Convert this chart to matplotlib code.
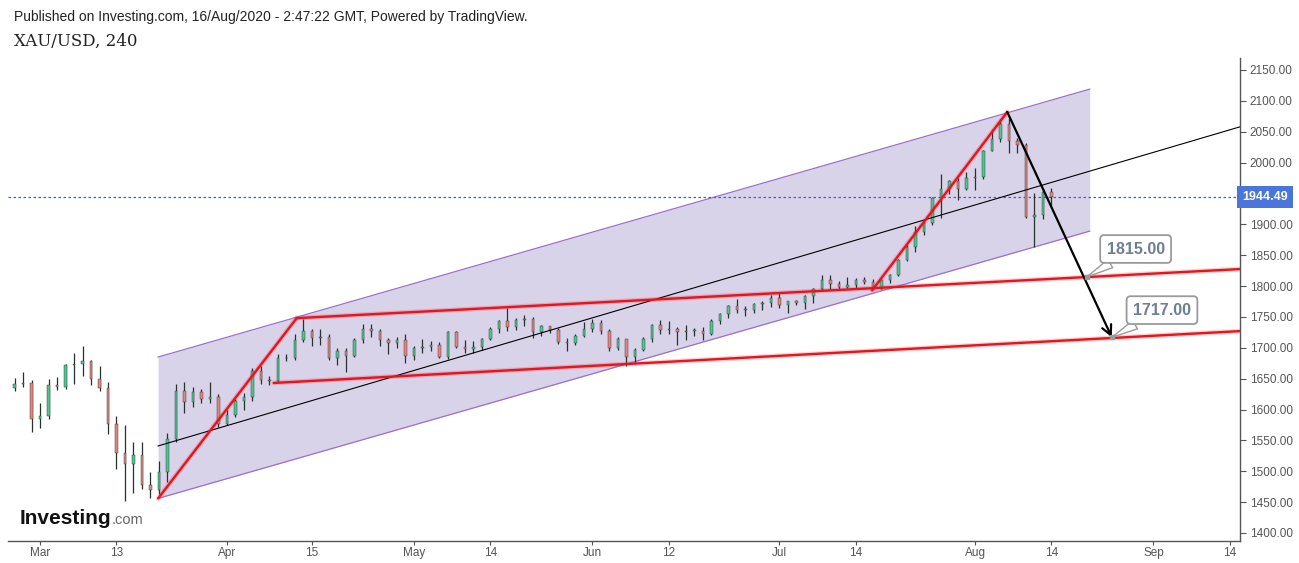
import numpy as np
import pandas as pd
import matplotlib
matplotlib.use('Agg')
import matplotlib.pyplot as plt

plt.rcParams['font.family'] = ['Liberation Sans', 'DejaVu Sans']

# XAU/USD daily candles (weekdays, 25 Feb - 14 Aug 2020)
dates = pd.bdate_range('2020-02-25', '2020-08-14')
opens = [1658, 1635, 1641, 1643,
         1585, 1590, 1640, 1637, 1672, 1674, 1679, 1649, 1635, 1577, 1529, 1511, 1526, 1478, 1470, 1498, 1553, 1630, 1612, 1629, 1617, 1621,
         1577, 1591, 1613, 1620, 1663, 1647, 1646, 1683, 1683, 1713, 1727, 1716, 1717, 1683, 1694, 1686, 1713, 1730, 1727, 1713, 1707, 1713,
         1687, 1700, 1702, 1705, 1685, 1725, 1702, 1698, 1702, 1715, 1731, 1743, 1733, 1745, 1747, 1725, 1735, 1729, 1710, 1708, 1719,
         1730, 1740, 1727, 1700, 1714, 1685, 1697, 1714, 1737, 1728, 1730, 1726, 1727, 1727, 1723, 1744, 1754, 1768, 1761, 1762, 1771, 1772,
         1781, 1770, 1775, 1772, 1784, 1795, 1810, 1803, 1799, 1802, 1810, 1807, 1796, 1810, 1818, 1842, 1863, 1888, 1902, 1942, 1958, 1970, 1958,
         1975, 1976, 2019, 2039, 2063, 2035, 2028, 1912, 1915, 1953]
highs = [1661, 1651, 1660, 1648,
         1610, 1649, 1652, 1674, 1692, 1703, 1681, 1670, 1645, 1590, 1575, 1548, 1548, 1498, 1517, 1562, 1641, 1645, 1637, 1633, 1644, 1625,
         1600, 1617, 1627, 1667, 1671, 1654, 1690, 1690, 1722, 1747, 1730, 1731, 1722, 1700, 1699, 1716, 1739, 1738, 1730, 1716, 1718, 1722,
         1703, 1715, 1711, 1710, 1727, 1727, 1712, 1711, 1716, 1734, 1745, 1765, 1748, 1753, 1750, 1737, 1736, 1732, 1716, 1723, 1741,
         1746, 1745, 1731, 1717, 1715, 1700, 1718, 1739, 1745, 1744, 1734, 1737, 1732, 1733, 1746, 1756, 1769, 1779, 1768, 1772, 1775, 1785,
         1789, 1776, 1777, 1786, 1797, 1818, 1818, 1808, 1815, 1813, 1815, 1811, 1811, 1820, 1843, 1866, 1898, 1905, 1945, 1981, 1971, 1975, 1984,
         1992, 2020, 2055, 2070, 2075, 2040, 2032, 1950, 1958, 1959]
lows = [1627, 1630, 1637, 1563,
        1570, 1585, 1632, 1634, 1642, 1655, 1640, 1630, 1560, 1504, 1451, 1465, 1472, 1456, 1463, 1482, 1547, 1595, 1604, 1610, 1610, 1572,
        1575, 1588, 1600, 1614, 1641, 1640, 1644, 1678, 1680, 1709, 1703, 1704, 1680, 1672, 1660, 1685, 1707, 1718, 1703, 1690, 1700, 1675,
        1680, 1692, 1695, 1683, 1682, 1700, 1692, 1692, 1696, 1712, 1724, 1727, 1728, 1735, 1716, 1719, 1724, 1706, 1694, 1704, 1718,
        1726, 1722, 1694, 1697, 1670, 1674, 1695, 1710, 1722, 1722, 1704, 1712, 1719, 1712, 1721, 1739, 1749, 1757, 1752, 1757, 1762, 1766,
        1765, 1757, 1770, 1763, 1773, 1793, 1796, 1795, 1797, 1797, 1804, 1795, 1795, 1805, 1816, 1840, 1855, 1883, 1899, 1910, 1949, 1940, 1955,
        1956, 1973, 2018, 2034, 2015, 2015, 1911, 1863, 1908, 1930]
closes = [1635, 1641, 1643, 1585,
          1590, 1640, 1637, 1672, 1674, 1679, 1649, 1635, 1577, 1529, 1511, 1526, 1478, 1470, 1498, 1553, 1630, 1612, 1629, 1617, 1621, 1577,
          1591, 1613, 1620, 1663, 1647, 1646, 1683, 1683, 1713, 1727, 1716, 1717, 1683, 1694, 1686, 1713, 1730, 1727, 1713, 1707, 1713, 1687,
          1700, 1702, 1705, 1685, 1725, 1702, 1698, 1702, 1715, 1731, 1743, 1733, 1745, 1747, 1725, 1735, 1729, 1710, 1708, 1719, 1730,
          1740, 1727, 1700, 1714, 1685, 1697, 1714, 1737, 1728, 1730, 1726, 1727, 1727, 1723, 1744, 1754, 1768, 1761, 1762, 1771, 1772, 1781,
          1770, 1775, 1772, 1784, 1795, 1810, 1803, 1799, 1802, 1810, 1807, 1796, 1810, 1818, 1842, 1863, 1888, 1902, 1942, 1958, 1970, 1958, 1975,
          1976, 2019, 2039, 2063, 2035, 2028, 1912, 1915, 1953, 1944.49]
last_price = 1944.49

tick_dates = ['2020-03-02', '2020-03-13', '2020-04-01', '2020-04-15', '2020-05-01', '2020-05-14', '2020-06-01',
              '2020-06-12', '2020-07-01', '2020-07-14', '2020-08-03', '2020-08-14', '2020-09-01', '2020-09-14']
tick_labels = ['Mar', '13', 'Apr', '15', 'May', '14', 'Jun', '12', 'Jul', '14', 'Aug', '14', 'Sep', '14']
price_ticks = np.arange(1400, 2151, 50)

# drawings: x = trading days since 2 Mar 2020, y = price
channel_x = [13.9, 123.5]
channel_top = [1685, 2119]
channel_bottom = [1456, 1889]
trend_x = [13.9, 141.2]
trend_y = [1541, 2058]
leg1_x, leg1_y = [13.9, 30.2], [1456, 1748]
upper_red_x, upper_red_y = [30.2, 141.2], [1748, 1827.5]
lower_red_x, lower_red_y = [27.5, 141.2], [1643, 1727]
leg2_x, leg2_y = [97.9, 113.8], [1793, 2082]
arrow_start = (113.8, 2082)
target_points = [(123.2, 1815), (126.1, 1717)]
target_labels = ['1815.00', '1717.00']
target_label_pos = [(128.9, 1860), (132.0, 1761)]

fig = plt.figure(figsize=(12.99, 5.63), dpi=100)
ax = fig.add_axes([8 / 1299, 22 / 563, 1232 / 1299, 483 / 563])

# channel
ax.fill_between(channel_x, channel_bottom, channel_top, color='#d9d3ea', lw=0, zorder=1)
ax.plot(channel_x, channel_top, color='#9a70cc', lw=0.9, zorder=2)
ax.plot(channel_x, channel_bottom, color='#9a70cc', lw=0.9, zorder=2)

# candles
x = np.busday_count('2020-03-02', dates.values.astype('datetime64[D]'))
o = np.array(opens, float)
c = np.array(closes, float)
up = c >= o
ax.vlines(x, lows, highs, color='#26332c', lw=0.9, zorder=3)
body = np.maximum(np.abs(c - o), 1.2)
ax.bar(x, body, bottom=np.minimum(o, c), width=0.3,
       color=np.where(up, '#4fc590', '#e48480'), edgecolor='#26332c', linewidth=0.3, zorder=4)

# trend lines
ax.plot(trend_x, trend_y, color='black', lw=0.8, zorder=5)
for xs, ys in [(leg1_x, leg1_y), (upper_red_x, upper_red_y), (lower_red_x, lower_red_y), (leg2_x, leg2_y)]:
    ax.plot(xs, ys, color='#e8141b', lw=3.5, alpha=0.2, zorder=5, solid_capstyle='round')
    ax.plot(xs, ys, color='#e8141b', lw=1.7, zorder=6, solid_capstyle='round')

ax.annotate('', xy=target_points[1], xytext=arrow_start,
            arrowprops=dict(arrowstyle='->,head_length=0.7,head_width=0.35', color='black', lw=1.6,
                            shrinkA=0, shrinkB=0), zorder=7)

# last price
ax.axhline(last_price, color='#3a62c8', lw=0.9, ls=(0, (2, 2)), zorder=2)
ax.text(1.002, last_price, f'{last_price:.2f}', transform=ax.get_yaxis_transform(), ha='left', va='center',
        color='white', fontsize=9, fontweight='bold', clip_on=False, zorder=20,
        bbox=dict(boxstyle='square,pad=0.4', fc='#4a76dc', ec='none'))

# target callouts
for pt, lab, pos in zip(target_points, target_labels, target_label_pos):
    ax.annotate(lab, xy=pt, xytext=pos, ha='center', va='center', fontsize=11.5, fontweight='bold',
                color='#6d7f92', zorder=9,
                bbox=dict(boxstyle='round,pad=0.4,rounding_size=0.25', fc='white', ec='#9a9a9a', lw=1.3),
                arrowprops=dict(arrowstyle='wedge,tail_width=0.6,shrink_factor=0.5', fc='white', ec='#9a9a9a',
                                lw=1, shrinkA=0, shrinkB=0))
    ax.plot(*pt, marker='s', ms=3.5, color='#9a9a9a', zorder=10)

# axes
ax.set_xlim(-3.765, 141.18)
ax.set_ylim(1387, 2169.4)
ax.set_xticks(np.busday_count('2020-03-02', np.array(tick_dates, dtype='datetime64[D]')))
ax.set_xticklabels(tick_labels)
ax.set_yticks(price_ticks)
# the 1950 label sits under the last-price box
ax.set_yticklabels(['' if v == 1950 else f'{v:.2f}' for v in price_ticks])
ax.yaxis.tick_right()
ax.tick_params(axis='y', direction='out', length=4, color='#555555', labelcolor='#555555', labelsize=8.5, pad=3)
ax.tick_params(axis='x', direction='out', length=3, color='#555555', labelcolor='#555555', labelsize=8.5, pad=1)
for s in ['left', 'top']:
    ax.spines[s].set_visible(False)
for s in ['bottom', 'right']:
    ax.spines[s].set_color('#555555')
    ax.spines[s].set_linewidth(1)

# header
fig.text(14 / 1299, 1 - 17 / 563, 'Published on Investing.com, 16/Aug/2020 - 2:47:22 GMT, Powered by TradingView.',
         fontsize=10, color='#222222', va='center')
fig.text(14 / 1299, 1 - 41 / 563, 'XAU/USD, 240', family='DejaVu Serif', fontsize=12, color='#222222', va='center')

# logo
fig.text(20 / 1299, 1 - 524 / 563, 'Investing', fontsize=15, fontweight='bold', color='#111111', va='baseline')
fig.text(112 / 1299, 1 - 524 / 563, '.com', fontsize=10.5, color='#666666', va='baseline')

fig.savefig('out.png', dpi=100, facecolor='white')
